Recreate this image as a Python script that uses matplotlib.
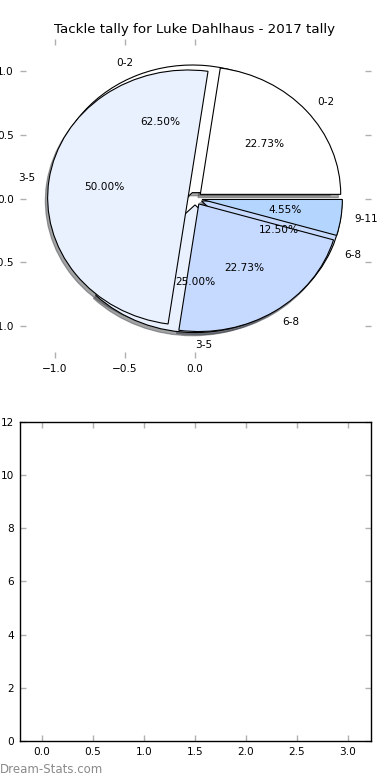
import matplotlib
matplotlib.use('Agg')
import matplotlib.pyplot as plt

# tally data
labels_prev = ['0-2', '3-5', '6-8']
tally_prev = [5, 2, 1]
labels_2017 = ['0-2', '3-5', '6-8', '9-11']
tally_2017 = [5, 11, 5, 1]

colors_prev = ['#ffffff', '#eaf1fe', '#c6d9fe']
colors_2017 = ['#ffffff', '#eaf1fe', '#c6d9fe', '#b4d5fe']

pie_xticks = [-1.0, -0.5, 0.0]
pie_yticks = [-1.0, -0.5, 0.0, 0.5, 1.0]
bar_xticks = [0.0, 0.5, 1.0, 1.5, 2.0, 2.5, 3.0]
bar_yticks = [0, 2, 4, 6, 8, 10, 12]

plt.rcParams['font.family'] = ['DejaVu Sans']
plt.rcParams['font.size'] = 7.6

fig, (ax1, ax2) = plt.subplots(2, 1, figsize=(3.9, 7.8), dpi=100)
fig.subplots_adjust(left=0.05, right=0.95, top=0.95, bottom=0.05, hspace=0.2)

wp = dict(edgecolor='black', linewidth=0.8)
shad = {'ox': -0.012, 'oy': -0.018}
ax1.pie(tally_prev, labels=labels_prev, colors=colors_prev, explode=[0.05] * len(tally_prev),
        autopct='%1.2f%%', shadow=shad, wedgeprops=wp, textprops=dict(fontsize=7.6))
ax1.pie(tally_2017, labels=labels_2017, colors=colors_2017, explode=[0.05] * len(tally_2017),
        autopct='%1.2f%%', shadow=shad, wedgeprops=wp, textprops=dict(fontsize=7.6))
ax1.set_aspect('auto')
ax1.set_frame_on(False)
ax1.set_xlim(-1.25, 1.25)
ax1.set_ylim(-1.25, 1.25)
ax1.set_xticks(pie_xticks)
ax1.set_yticks(pie_yticks)
ax1.set_title('Tackle tally for Luke Dahlhaus - 2017 tally', fontsize=9.6, pad=4)

ax2.set_xlim(-0.22, 3.22)
ax2.set_ylim(0, 12)
ax2.set_xticks(bar_xticks)
ax2.set_yticks(bar_yticks)
for sp in ax2.spines.values():
    sp.set_linewidth(1.0)

for ax in (ax1, ax2):
    ax.tick_params(direction='in', length=4, width=1, color='#b0b0b0', pad=4,
                   top=True, right=True, labelsize=7.6)

fig.text(0.0, 0.013, 'Dream-Stats.com', color='#8a8a8a', fontsize=8.5,
         ha='left', va='center')

plt.savefig('out.png', dpi=100)
